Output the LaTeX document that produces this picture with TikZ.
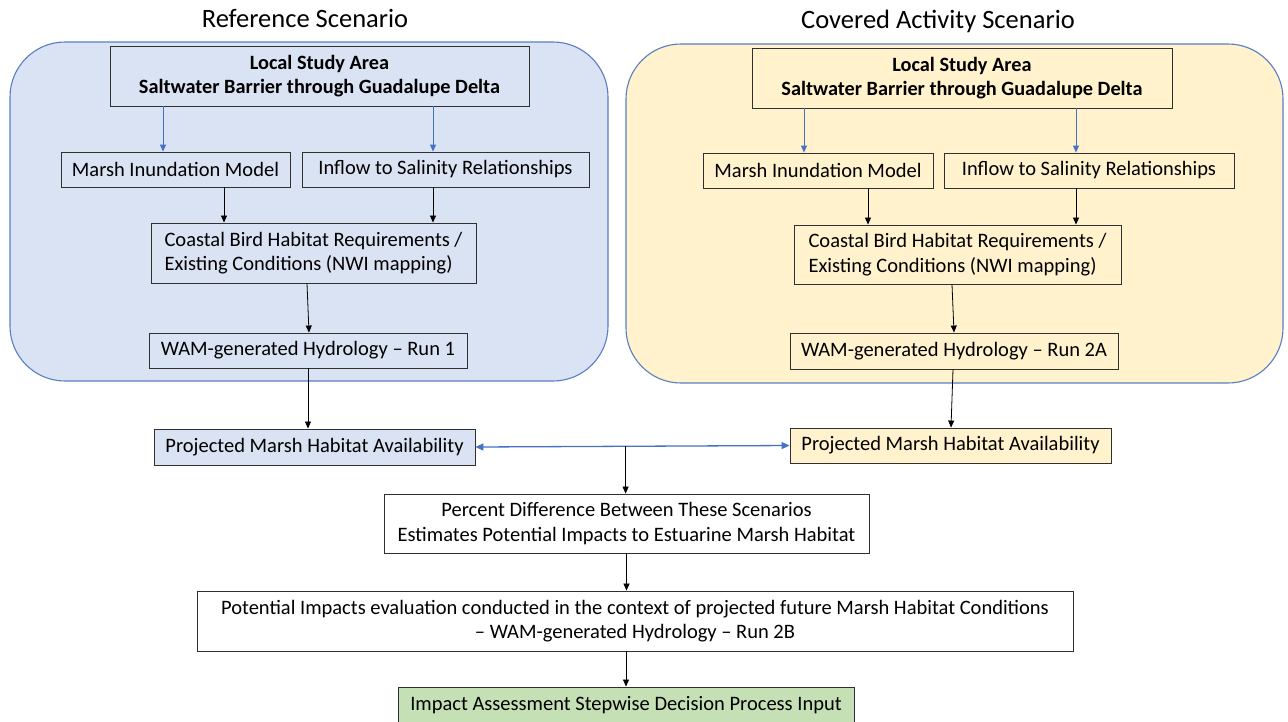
\documentclass[tikz,border=0pt]{standalone}
\usepackage{fontspec}
\setmainfont{Carlito}
\usetikzlibrary{arrows.meta,calc}
\definecolor{panelblue}{HTML}{DAE3F3}
\definecolor{panelyellow}{HTML}{FFF2CC}
\definecolor{edgeblue}{HTML}{5A7EC4}
\definecolor{arrowblue}{HTML}{4472C4}
\definecolor{boxgreen}{HTML}{C5E0B4}
\definecolor{boxedge}{HTML}{303030}
\tikzset{
  panel/.style={draw=edgeblue, line width=1.1pt, rounded corners=55pt},
  box/.style={draw=boxedge, line width=0.9pt, inner sep=0pt, align=center,
    font=\fontsize{20.5}{24.5}\selectfont},
  boldbox/.style={box, font=\fontsize{20.3}{24.5}\selectfont\bfseries},
  leftbox/.style={box, align=left},
  title/.style={font=\fontsize{26.5}{31}\selectfont, inner sep=0pt},
  blk/.style={draw=black, line width=0.8pt, -{Triangle[length=7pt,width=6pt]}},
  blu/.style={draw=arrowblue, line width=0.9pt, -{Triangle[length=7pt,width=6pt]}},
  blud/.style={draw=arrowblue, line width=1.3pt, {Triangle[length=8pt,width=7pt]}-{Triangle[length=8pt,width=7pt]}},
}
\begin{document}
\begin{tikzpicture}[x=1pt,y=-1pt]
\useasboundingbox (0,0) rectangle (1288,721);
\fill[white] (0,0) rectangle (1288,721);

% titles
\node[title] (tL) at (305,18) {Reference Scenario};
\node[title] (tR) at (938,21) {Covered Activity Scenario};

% panels
\draw[panel, fill=panelblue] (10,42) rectangle (608,381);
\draw[panel, fill=panelyellow] (626,44) rectangle (1283,383);

% left panel nodes
\node[boldbox, minimum width=419pt, minimum height=60pt] (locL) at (319.5,76)
  {Local Study Area\\Saltwater Barrier through Guadalupe Delta};
\node[box, minimum width=229pt, minimum height=35pt] (marshL) at (175.5,169.5) {Marsh Inundation Model};
\node[box, minimum width=287pt, minimum height=35pt] (inflowL) at (445.5,169.5) {Inflow to Salinity Relationships};
\node[leftbox, minimum width=325pt, minimum height=60pt] (coastL) at (313.5,253)
  {Coastal Bird Habitat Requirements /\\Existing Conditions (NWI mapping)};
\node[box, minimum width=318pt, minimum height=35pt] (wamL) at (308,350.5) {WAM-generated Hydrology -- Run 1};
\node[box, fill=panelblue, minimum width=321pt, minimum height=36pt] (projL) at (314.5,447) {Projected Marsh Habitat Availability};

% right panel nodes
\node[boldbox, minimum width=420pt, minimum height=60pt] (locR) at (962,78)
  {Local Study Area\\Saltwater Barrier through Guadalupe Delta};
\node[box, minimum width=230pt, minimum height=35pt] (marshR) at (818,170.5) {Marsh Inundation Model};
\node[box, minimum width=290pt, minimum height=35pt] (inflowR) at (1089,170.5) {Inflow to Salinity Relationships};
\node[leftbox, minimum width=327pt, minimum height=59pt] (coastR) at (957.5,254.5)
  {Coastal Bird Habitat Requirements /\\Existing Conditions (NWI mapping)};
\node[box, minimum width=328pt, minimum height=36pt] (wamR) at (954,351) {WAM-generated Hydrology -- Run 2A};
\node[box, fill=panelyellow, minimum width=321pt, minimum height=35pt] (projR) at (950.5,445.5) {Projected Marsh Habitat Availability};

% bottom nodes
\node[box, fill=white, minimum width=485pt, minimum height=59pt] (pct) at (626.5,523.5)
  {Percent Difference Between These Scenarios\\Estimates Potential Impacts to Estuarine Marsh Habitat};
\node[box, fill=white, minimum width=876pt, minimum height=60pt] (pot) at (635,621)
  {Potential Impacts evaluation conducted in the context of projected future Marsh Habitat Conditions\\-- WAM-generated Hydrology -- Run 2B};
\node[box, fill=boxgreen, minimum width=456pt, minimum height=36pt] (green) at (626,705)
  {Impact Assessment Stepwise Decision Process Input};

% left connectors
\draw[blu] ($(locL.south)+(-156.5,0)$) -- ($(marshL.north)+(-12.5,0)$);
\draw[blu] ($(locL.south)+(113.5,0)$) -- ($(inflowL.north)+(-12.5,0)$);
\draw[blk] ($(marshL.south)+(48.5,0)$) -- ($(coastL.north)+(-89.5,0)$);
\draw[blk] ($(inflowL.south)+(-12.5,0)$) -- ($(coastL.north)+(119.5,0)$);
\draw[blk] ($(coastL.south)+(-6.5,0)$) -- ($(wamL.north)+(1,0)$);
\draw[blk] (wamL.south) -- ($(projL.north)+(-6.5,0)$);

% right connectors
\draw[blu] ($(locR.south)+(-158,0)$) -- ($(marshR.north)+(-14,0)$);
\draw[blu] ($(locR.south)+(114,0)$) -- ($(inflowR.north)+(-13,0)$);
\draw[blk] ($(marshR.south)+(50,0)$) -- ($(coastR.north)+(-89.5,0)$);
\draw[blk] ($(inflowR.south)+(-13,0)$) -- ($(coastR.north)+(118.5,0)$);
\draw[blk] ($(coastR.south)+(-5.5,0)$) -- (wamR.north);
\draw[blk] ($(wamR.south)+(-1,0)$) -- ($(projR.north)+(0.5,0)$);

% comparison
\draw[blud] (projL.east) -- (projR.west);
\coordinate (mid) at ($(projL.east)!0.478!(projR.west)$);
\draw[blk] (mid) -- (mid |- pct.north);
\draw[blk] (pct.south) -- (pct.south |- pot.north);
\draw[blk] (green.north |- pot.south) -- (green.north);
\end{tikzpicture}
\end{document}
